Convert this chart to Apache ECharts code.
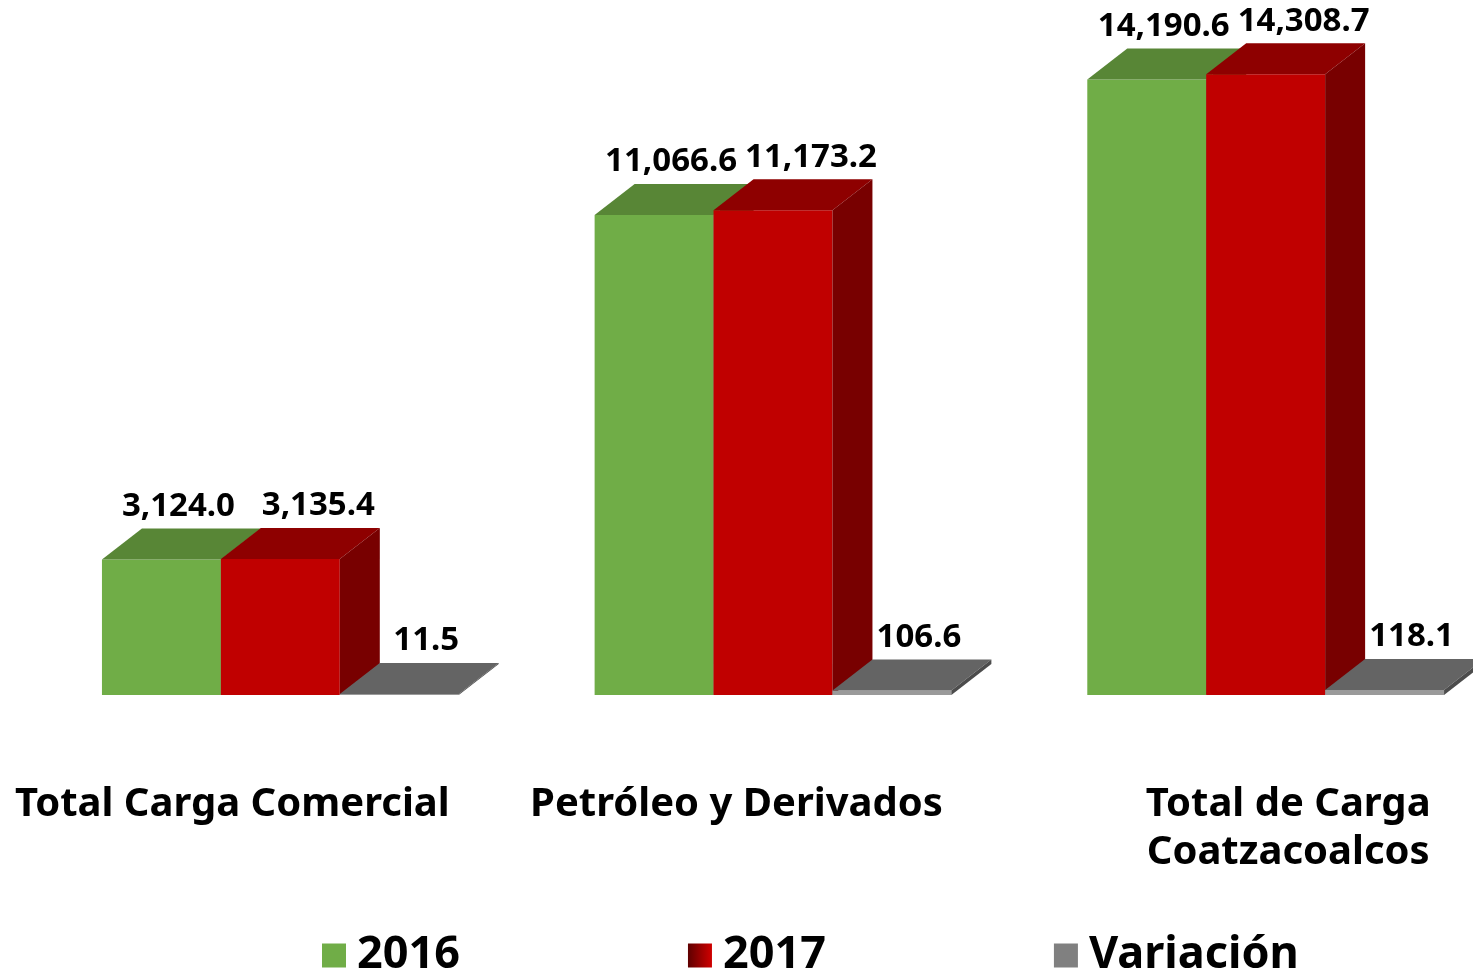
<!DOCTYPE html>
<html>
<head>
<meta charset="utf-8">
<script src="https://cdn.jsdelivr.net/npm/echarts@6/dist/echarts.min.js"></script>
<style>
html, body { margin: 0; padding: 0; background: #fff; }
#chart { width: 1473px; height: 971px; }
</style>
</head>
<body>
<div id="chart"></div>
<script>
// datos del gráfico
var categories = ['Total Carga Comercial', 'Petróleo y Derivados', 'Total de Carga\nCoatzacoalcos'];
var values2016 = [3124.0, 11066.6, 14190.6];
var values2017 = [3135.4, 11173.2, 14308.7];
var valuesVariacion = [11.5, 106.6, 118.1];

var chart = echarts.init(document.getElementById('chart'));

var FONT = '"Noto Sans", sans-serif';
var BAR_FRAC = 119 / 493; // ancho de barra respecto a la categoría
var DX = 40, DY = 31;     // profundidad del efecto 3D

var styles = [
    { name: '2016', data: values2016, slot: -1, front: '#70AD47', top: '#588636', side: '#3f6428', labelDx: -3 },
    { name: '2017', data: values2017, slot: 0, front: '#C00000', top: '#8E0000', side: '#780000', labelDx: 18 },
    { name: 'Variación', data: valuesVariacion, slot: 1, front: '#9a9a9a', top: '#646464', side: '#4c4c4c', labelDx: 7 }
];

function fmt(v) {
    return v.toLocaleString('en-US', { minimumFractionDigits: 1, maximumFractionDigits: 1 });
}

function makeRender(st) {
    return function (params, api) {
        var idx = api.value(0);
        var val = api.value(1);
        var base = api.coord([idx, 0]);
        var top = api.coord([idx, val]);
        var w = api.size([1, 0])[0] * BAR_FRAC;
        var cx = base[0] + st.slot * w;
        var x0 = cx - w / 2, x1 = cx + w / 2;
        var y0 = base[1], y1 = Math.min(top[1], base[1] - 1);
        return {
            type: 'group',
            children: [
                { type: 'rect', shape: { x: x0, y: y1, width: w, height: y0 - y1 }, style: { fill: st.front } },
                { type: 'polygon', shape: { points: [[x0, y1], [x1, y1], [x1 + DX, y1 - DY], [x0 + DX, y1 - DY]] }, style: { fill: st.top } },
                { type: 'polygon', shape: { points: [[x1, y1], [x1 + DX, y1 - DY], [x1 + DX, y0 - DY], [x1, y0]] }, style: { fill: st.side } },
                {
                    type: 'text',
                    style: {
                        x: cx + DX / 2 + st.labelDx,
                        y: y1 - DY - 22,
                        text: fmt(val),
                        fill: '#000',
                        fontFamily: FONT,
                        fontWeight: 'bold',
                        fontSize: 33,
                        align: 'center',
                        verticalAlign: 'middle'
                    }
                }
            ]
        };
    };
}

var series = styles.map(function (st) {
    return {
        name: st.name,
        type: 'custom',
        renderItem: makeRender(st),
        clip: false,
        itemStyle: { color: st.front },
        encode: { x: 0, y: 1 },
        data: st.data.map(function (v, i) { return [i, v]; })
    };
});

var catLabel = { fontFamily: FONT, fontWeight: 'bold', fontSize: 40, color: '#000', lineHeight: 48 };

var option = {
    backgroundColor: '#fff',
    animation: false,
    grid: { left: 34, top: 1, width: 1478, height: 694, outerBoundsMode: 'none' },
    xAxis: {
        type: 'category',
        data: categories,
        axisLine: { show: false },
        axisTick: { show: false },
        axisLabel: {
            interval: 0,
            margin: 86,
            hideOverlap: false,
            formatter: function (v, i) { return '{c' + i + '|' + v + '}'; },
            rich: {
                c0: Object.assign({ padding: [0, 96, 0, 0] }, catLabel),
                c1: Object.assign({ padding: [0, 73, 0, 0] }, catLabel),
                c2: Object.assign({ padding: [0, 0, 0, 45] }, catLabel)
            }
        }
    },
    yAxis: { type: 'value', min: 0, max: 16000, show: false, splitLine: { show: false } },
    legend: {
        left: 322,
        top: 933,
        padding: 0,
        itemWidth: 24,
        itemHeight: 24,
        itemGap: 228,
        icon: 'rect',
        textStyle: { fontFamily: FONT, fontWeight: 'bold', fontSize: 45, lineHeight: 44, color: '#000', padding: [0, 0, 0, 6] },
        data: [
            { name: '2016', itemStyle: { color: '#70AD47' } },
            { name: '2017', itemStyle: { color: new echarts.graphic.LinearGradient(0, 0, 1, 0, [{ offset: 0, color: '#5e0000' }, { offset: 1, color: '#d00000' }]) } },
            { name: 'Variación', itemStyle: { color: '#808080' } }
        ]
    },
    series: series
};

chart.setOption(option);
</script>
</body>
</html>
